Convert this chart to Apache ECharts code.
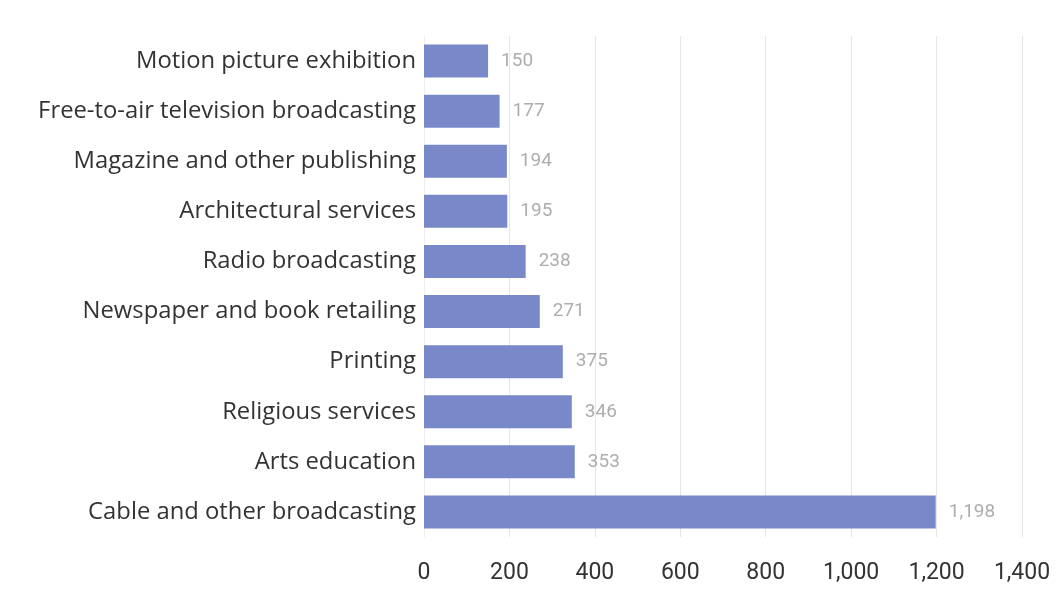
<!DOCTYPE html>
<html><head><meta charset="utf-8">
<script src="https://cdn.jsdelivr.net/npm/echarts@6/dist/echarts.min.js"></script>
<style>html,body{margin:0;padding:0;background:#fff}#c{width:1056px;height:589px}</style>
</head><body><div id="c"></div>
<script>
const categories = ["Motion picture exhibition","Free-to-air television broadcasting","Magazine and other publishing","Architectural services","Radio broadcasting","Newspaper and book retailing","Printing","Religious services","Arts education","Cable and other broadcasting"];
const values = [150,177,194,195,238,271,325,346,353,1198];
const valueLabels = ["150","177","194","195","238","271","375","346","353","1,198"];
const xTicks = [0,200,400,600,800,1000,1200,1400];

const chart = echarts.init(document.getElementById('c'));
chart.setOption({
  animation:false,
  grid:{left:424,right:34,top:36,bottom:52,containLabel:false},
  xAxis:{type:'value',min:xTicks[0],max:xTicks[xTicks.length-1],interval:200,
    axisLine:{show:false},axisTick:{show:false},
    splitLine:{show:true,lineStyle:{color:'#e6e6e6',width:1}},
    axisLabel:{margin:25,fontSize:23,color:'#333',fontFamily:'Roboto,sans-serif',
      formatter:v=>v.toLocaleString('en-US')}},
  yAxis:{type:'category',inverse:true,data:categories,
    axisLine:{show:true,lineStyle:{color:'#eeeeee'}},axisTick:{show:false},
    axisLabel:{margin:8,fontSize:23.8,color:'#333',fontFamily:'"Open Sans","Noto Sans",sans-serif'}},
  series:[{type:'bar',data:values,barWidth:33,itemStyle:{color:'#7888c9'},
    label:{show:true,position:'right',distance:13,fontSize:19,color:'#adadad',
      fontFamily:'Roboto,sans-serif',
      formatter:p=>valueLabels[p.dataIndex]}}]
});
</script></body></html>
